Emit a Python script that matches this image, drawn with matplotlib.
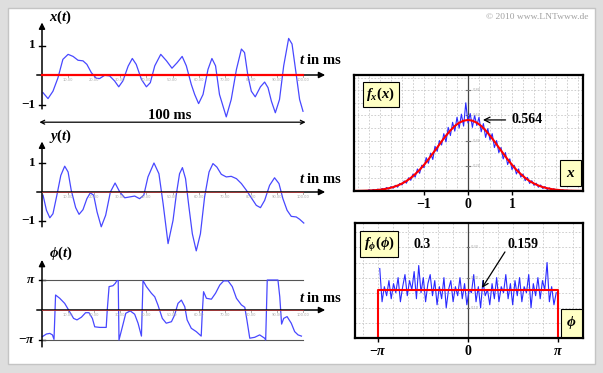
import numpy as np
import matplotlib
matplotlib.use("Agg")
import matplotlib.pyplot as plt
from matplotlib.patches import Rectangle

# ---- signals (t in ms) ----
t_x = [0.4, 2.3, 4.2, 6.1, 8.0, 10, 11.9, 13.8, 15.7, 17.2, 18.9, 20.8, 22.1, 24, 25.9, 27.8, 29.4, 31, 33, 34.6,
	36.1, 38.1, 40, 41.5, 43.2, 45.5, 47.7, 49.8, 51.8, 53.7, 55.3, 57.2, 58.5, 60, 61.7, 63.6, 65.1, 66.5, 68, 70.6,
	72.5, 74.5, 76.4, 77.6, 78.9, 80.2, 81.7, 83.7, 85.3, 86.6, 87.9, 89.4, 91, 92.6, 94.5, 95.8, 97.4, 98.7, 100]
x_vals = [-0.6, -0.8, -0.55, -0.1, 0.53, 0.7, 0.63, 0.5, 0.48, 0.36, 0.08, -0.11, -0.12, -0.01, -0.03, -0.2, -0.4, -0.2, 0.3, 0.56,
	0.36, -0.15, -0.4, -0.26, 0.31, 0.7, 0.48, 0.23, 0.42, 0.63, 0.31, -0.32, -0.66, -0.97, -0.66, 0.19, 0.56, 0.31, -0.66, -1.42,
	-0.83, 0.19, 0.88, 0.76, -0.03, -0.55, -0.74, -0.4, -0.24, -0.43, -0.89, -1.28, -0.83, 0.31, 1.24, 1.05, 0.02, -0.83, -1.23]

t_y = [0.4, 1.7, 3, 4.2, 5.7, 7.2, 8.7, 10, 11.2, 12.9, 14.2, 15.7, 17.2, 18.5, 19.8, 21.1, 22.7, 24.4, 26.2, 28,
	29.8, 31.7, 33.6, 35.5, 37.4, 39, 40.6, 42.9, 44.8, 46.4, 48.3, 50.2, 51.5, 52.7, 53.8, 55, 56.3, 57.6, 59.1, 60.7,
	62.3, 64, 65.5, 67, 68.7, 70.6, 72.5, 74.5, 76.4, 78.3, 80.2, 82.1, 83.7, 85.3, 87.2, 89.1, 90.8, 92.3, 93.9, 95.5,
	97.4, 98.7, 100.3]
y_vals = [-0.11, -0.63, -0.89, -0.75, -0.11, 0.57, 0.89, 0.69, 0.06, -0.54, -0.77, -0.61, -0.23, -0.03, -0.11, -0.69, -1.2, -0.8, 0, 0.31,
	0, -0.2, -0.17, -0.14, -0.23, -0.11, 0.52, 1.0, 0.63, -0.4, -1.78, -0.98, -0.06, 0.63, 0.84, 0.46, -0.52, -1.44, -2.03, -1.44,
	-0.17, 0.69, 0.98, 0.86, 0.61, 0.52, 0.54, 0.46, 0.29, 0.06, -0.2, -0.46, -0.54, -0.29, 0.23, 0.49, 0.29, -0.23, -0.63, -0.84,
	-0.86, -0.94, -1.07]

# phase in units of pi
t_phi = [0.1, 1.7, 3, 4, 4.6, 5.2, 6.8, 8.7, 10.6, 12.1, 13.4, 15.1, 16.7, 18, 19.3, 20.2, 22.1, 24.6, 25, 25.7,
	27.2, 28.1, 28.7, 29.2, 29.5, 30.8, 32.1, 33.8, 35.5, 36.8, 38.1, 38.7, 40, 41.9, 43.2, 44.4, 46.1, 47.6, 49.6, 50.8,
	52.1, 53.4, 54.7, 55.6, 57.2, 59.1, 61, 61.4, 61.9, 63, 64.9, 66.5, 68.1, 69.6, 71.3, 72.9, 74.5, 76.4, 77.7, 78.5,
	79.6, 81.5, 83.4, 85.3, 85.7, 86.3, 87.9, 89.8, 90.4, 91.1, 91.8, 92.6, 93.9, 95.5, 96.8, 98.1, 99.4]
phi_vals = [-0.89, -0.8, -0.78, -0.83, -0.98, 0.5, 0.39, 0.22, -0.06, -0.28, -0.33, -0.24, -0.09, -0.09, -0.28, -0.56, -0.58, -0.58, 0, 0.78,
	0.81, 0.89, 0.98, 0.98, -1.0, -0.56, -0.11, -0.03, -0.14, -0.44, -0.87, 0.98, 0.78, 0.56, 0.44, 0.17, -0.28, -0.44, -0.39, -0.17,
	0.22, 0.33, 0.11, -0.33, -0.61, -0.72, -0.87, -0.11, 0.61, 0.39, 0.36, 0.56, 0.83, 0.97, 0.97, 0.78, 0.39, 0.17, 0.09, -0.33,
	-0.94, -0.91, -0.83, -0.94, -1.0, 1.0, 1.0, 1.0, 1.0, 0.44, -0.47, -0.28, -0.22, -0.44, -0.72, -0.83, -0.87]

# ---- histogram of x (measured) and Gaussian PDF ----
hx_vals = [0.010, 0.002, 0.012, 0.004, 0.015, 0.006, 0.020, 0.010, 0.028, 0.015, 0.035, 0.022, 0.045, 0.030, 0.060, 0.048,
	0.080, 0.062, 0.105, 0.085, 0.135, 0.110, 0.175, 0.140, 0.205, 0.185, 0.265, 0.220, 0.300, 0.250, 0.355, 0.315, 0.400,
	0.365, 0.455, 0.390, 0.505, 0.440, 0.545, 0.475, 0.585, 0.500, 0.610, 0.515, 0.700, 0.540, 0.615, 0.505, 0.600, 0.520,
	0.585, 0.470, 0.535, 0.425, 0.495, 0.405, 0.455, 0.345, 0.400, 0.305, 0.345, 0.255, 0.305, 0.210, 0.255, 0.170, 0.205,
	0.135, 0.175, 0.110, 0.135, 0.082, 0.108, 0.060, 0.082, 0.045, 0.062, 0.030, 0.048, 0.020, 0.035, 0.012, 0.025, 0.008,
	0.018, 0.004, 0.012, 0.002, 0.008, 0.001, 0.006, 0.001, 0.004]
hx_lo, hx_hi = -2.25, 2.35
gx = [-2.6, -2.5, -2.4, -2.3, -2.2, -2.1, -2.0, -1.9, -1.8, -1.7, -1.6, -1.5, -1.4, -1.3, -1.2, -1.1, -1.0, -0.9, -0.8,
	-0.7, -0.6, -0.5, -0.4, -0.3, -0.2, -0.1, 0.0, 0.1, 0.2, 0.3, 0.4, 0.5, 0.6, 0.7, 0.8, 0.9, 1.0, 1.1, 1.2, 1.3, 1.4,
	1.5, 1.6, 1.7, 1.8, 1.9, 2.0, 2.1, 2.2, 2.3, 2.4, 2.5, 2.6]
gy = [0.0006, 0.0011, 0.0018, 0.0028, 0.0045, 0.0069, 0.0103, 0.0152, 0.0220, 0.0311, 0.0435, 0.0594, 0.079, 0.104, 0.134,
	0.168, 0.2075, 0.251, 0.298, 0.345, 0.394, 0.439, 0.481, 0.516, 0.542, 0.558, 0.564, 0.558, 0.542, 0.516, 0.481, 0.439,
	0.394, 0.345, 0.298, 0.251, 0.2075, 0.168, 0.134, 0.104, 0.079, 0.0594, 0.0435, 0.0311, 0.0220, 0.0152, 0.0103, 0.0069,
	0.0045, 0.0028, 0.0018, 0.0011, 0.0006]
peak_x = 0.564

# ---- histogram of phase and uniform PDF ----
hp_vals = [0.23, 0.12, 0.17, 0.14, 0.19, 0.13, 0.18, 0.15, 0.20, 0.12, 0.17, 0.21, 0.14, 0.19, 0.16, 0.22, 0.13, 0.24, 0.15,
	0.20, 0.12, 0.18, 0.21, 0.14, 0.19, 0.11, 0.17, 0.13, 0.20, 0.10, 0.16, 0.19, 0.12, 0.17, 0.14, 0.20, 0.13, 0.18, 0.11,
	0.16, 0.15, 0.21, 0.12, 0.17, 0.10, 0.19, 0.14, 0.16, 0.11, 0.18, 0.13, 0.20, 0.12, 0.17, 0.15, 0.21, 0.13, 0.18, 0.11,
	0.19, 0.14, 0.20, 0.12, 0.17, 0.15, 0.21, 0.10, 0.18, 0.14, 0.20, 0.13, 0.19, 0.16, 0.25, 0.12, 0.17, 0.11, 0.15]
hp_lo, hp_hi = -3.08, 3.08
f_phi = 0.159

W, H = 603, 373
BLUE = '#4848ff'
SERIF = 'Liberation Serif'


def panel(fig, box, x0, xs, y0, ys, frame=False):
	# box in pixels (left, top, right, bottom), origin top-left
	l, t, r, b = box
	ax = fig.add_axes([l / W, 1 - b / H, (r - l) / W, (b - t) / H])
	ax.set_xlim((l - x0) / xs, (r - x0) / xs)
	ax.set_ylim((y0 - b) / ys, (y0 - t) / ys)
	if not frame:
		ax.axis('off')
	ax.patch.set_alpha(0)
	return ax


def time_axes(ax, ybot, ytop, ticks, ticklabels, lbl, lbl_y, tin_y):
	ax.annotate('', xy=(0, ytop), xytext=(0, ybot),
		arrowprops=dict(arrowstyle='-|>', color='black', lw=1.1, mutation_scale=9, shrinkA=0, shrinkB=0))
	ax.annotate('', xy=(108.5, 0), xytext=(-2, 0),
		arrowprops=dict(arrowstyle='-|>', color='black', lw=1.1, mutation_scale=9, shrinkA=0, shrinkB=0))
	for v, s in zip(ticks, ticklabels):
		ax.plot([-1.2, 1.2], [v, v], color='black', lw=1)
		ax.text(-2.6, v, s, ha='right', va='center', fontsize=9.5, fontfamily=SERIF, fontweight='bold')
	span = ytop - ybot
	for k in range(1, 11):
		ax.plot([10 * k, 10 * k], [0, -span * 0.025], color='#999999', lw=0.6)
		ax.text(10 * k, -span * 0.06, '%d.00' % (10 * k), ha='center', va='center', fontsize=2.6, color='#aaaaaa')
	ax.text(2.5, lbl_y, lbl, ha='left', va='center', fontsize=10.5)
	ax.text(98.5, tin_y, r'$t$ in ms', ha='left', va='center', fontsize=10.5, fontfamily=SERIF, fontweight='bold')


def main():
	plt.rcParams['mathtext.fontset'] = 'custom'
	plt.rcParams['mathtext.it'] = 'Liberation Serif:italic:bold'
	plt.rcParams['mathtext.rm'] = 'Liberation Serif:bold'
	plt.rcParams['mathtext.bf'] = 'Liberation Serif:bold'

	fig = plt.figure(figsize=(W / 100, H / 100), dpi=100)
	fig.patch.set_facecolor('#dedede')
	bg = fig.add_axes([0, 0, 1, 1])
	bg.set_xlim(0, W)
	bg.set_ylim(H, 0)
	bg.axis('off')
	bg.add_patch(Rectangle((8, 8), 587, 356, facecolor='white', edgecolor='#c4c4c4', lw=1))
	bg.text(588, 17, '\u00a9 2010 www.LNTwww.de', ha='right', va='center', fontsize=6.8, color='#a0a0a0', fontfamily=SERIF)

	# x(t)
	ax = panel(fig, (15, 12, 350, 132), 42, 2.61, 75, 29.5)
	time_axes(ax, -1.15, 1.78, [1, -1], ['1', '\u22121'], r'$x(t)$', 1.95, 0.5)
	ax.plot(t_x, x_vals, color=BLUE, lw=0.9)
	ax.plot([0, 100], [0, 0], color='#ff0000', lw=1.6, zorder=5)
	ax.annotate('', xy=(101, -1.6), xytext=(-1, -1.6),
		arrowprops=dict(arrowstyle='<->', color='black', lw=0.9, mutation_scale=7, shrinkA=0, shrinkB=0))
	ax.text(49, -1.36, '100 ms', ha='center', va='center', fontsize=10.5, fontfamily=SERIF, fontweight='bold')

	# y(t)
	ax = panel(fig, (15, 132, 350, 256), 42, 2.61, 192, 29)
	time_axes(ax, -1.2, 1.74, [1, -1], ['1', '\u22121'], r'$y(t)$', 1.92, 0.45)
	ax.plot(t_y, y_vals, color=BLUE, lw=0.9)
	ax.plot([0, 100], [0, 0], color='#a03838', lw=0.7, zorder=5)

	# phi(t)
	ps = 30 / np.pi
	ax = panel(fig, (15, 250, 350, 356), 42, 2.61, 310, ps)
	time_axes(ax, -1.23 * np.pi, 1.67 * np.pi, [np.pi, -np.pi], [r'$\pi$', r'$-\pi$'], r'$\phi(t)$', 1.9 * np.pi, 0.4 * np.pi)
	for v in (np.pi, -np.pi):
		ax.plot([0, 100], [v, v], color='#555555', lw=0.8)
	ax.plot([0, 100], [0, 0], color='#a03838', lw=0.7, zorder=5)
	ax.plot(t_phi, np.array(phi_vals) * np.pi, color=BLUE, lw=0.9)

	# f_x(x)
	ax = panel(fig, (354, 75, 583, 191), 468, 44, 191, 126, frame=True)
	for s in ax.spines.values():
		s.set_linewidth(1.6)
	for v in np.arange(-2.5, 2.6, 0.25):
		ax.axvline(v, color='#c8c8c8', lw=0.6, ls=(0, (2, 2)), zorder=0)
	for v in np.arange(0.1, 0.95, 0.1):
		ax.axhline(v, color='#c8c8c8', lw=0.6, ls=(0, (2, 2)), zorder=0)
	ax.axvline(0, color='#444444', lw=0.9, zorder=1)
	for v in (0.2, 0.4, 0.6, 0.8):
		ax.plot([-0.05, 0.05], [v, v], color='#777777', lw=0.8)
		ax.text(0.1, v, '%.2f' % v, fontsize=2.6, color='#aaaaaa', va='center')
	ax.plot(np.linspace(hx_lo, hx_hi, len(hx_vals)), hx_vals, color='#2a2aff', lw=0.8)
	ax.plot(gx, gy, color='#ff0000', lw=1.5)
	ax.set_xticks([-1, 0, 1])
	ax.set_xticklabels(['\u22121', '0', '1'], fontfamily=SERIF, fontweight='bold', fontsize=10)
	ax.set_yticks([])
	ax.tick_params(axis='x', length=3, width=1, pad=2)
	box = dict(boxstyle='square,pad=0.25', facecolor='#ffffc4', edgecolor='black', lw=0.8)
	ax.text(-1.98, 0.766, r'$f_x(x)$', ha='center', va='center', fontsize=10.5, bbox=box)
	ax.text(2.33, 0.143, r'$x$', ha='center', va='center', fontsize=11, bbox=dict(box, boxstyle='square,pad=0.35'))
	ax.annotate('0.564', xy=(0.34, peak_x), xytext=(0.98, peak_x), ha='left', va='center',
		fontsize=10, fontfamily=SERIF, fontweight='bold',
		arrowprops=dict(arrowstyle='->', color='black', lw=0.9, shrinkA=2, shrinkB=0))

	# f_phi(phi)
	ax = panel(fig, (355, 223, 583, 338), 468, 90 / np.pi, 338, 302, frame=True)
	for s in ax.spines.values():
		s.set_linewidth(1.6)
	for k in range(-7, 8):
		ax.axvline(k * np.pi / 6, color='#c8c8c8', lw=0.6, ls=(0, (2, 2)), zorder=0)
	for v in np.arange(0.05, 0.38, 0.05):
		ax.axhline(v, color='#c8c8c8', lw=0.6, ls=(0, (2, 2)), zorder=0)
	ax.axvline(0, color='#444444', lw=0.9, zorder=1)
	for v in (0.1, 0.2, 0.3):
		ax.plot([-0.05, 0.05], [v, v], color='#777777', lw=0.8)
		ax.text(0.1, v, '%.2f' % v, fontsize=2.6, color='#aaaaaa', va='center')
	ax.plot(np.linspace(hp_lo, hp_hi, len(hp_vals)), hp_vals, color='#2a2aff', lw=0.8)
	ax.plot([-np.pi, -np.pi, np.pi, np.pi], [0, f_phi, f_phi, 0], color='#ff0000', lw=1.5, clip_on=False)
	ax.set_xticks([-np.pi, 0, np.pi])
	ax.set_xticklabels([r'$-\pi$', '0', r'$\pi$'], fontfamily=SERIF, fontweight='bold', fontsize=10)
	ax.set_yticks([])
	ax.tick_params(axis='x', length=3, width=1, pad=2)
	ax.text(-3.11, 0.311, r'$f_\phi(\phi)$', ha='center', va='center', fontsize=10.5, bbox=box)
	ax.text(3.6, 0.05, r'$\phi$', ha='center', va='center', fontsize=11, bbox=dict(box, boxstyle='square,pad=0.35'))
	ax.text(-1.6, 0.308, '0.3', ha='center', va='center', fontsize=10, fontfamily=SERIF, fontweight='bold')
	ax.text(1.92, 0.311, '0.159', ha='center', va='center', fontsize=10, fontfamily=SERIF, fontweight='bold')
	ax.annotate('', xy=(0.49, 0.166), xytext=(1.29, 0.285),
		arrowprops=dict(arrowstyle='->', color='black', lw=0.9, shrinkA=0, shrinkB=0))

	fig.savefig('out.png', dpi=100, facecolor=fig.get_facecolor())


if __name__ == "__main__":
	main()
